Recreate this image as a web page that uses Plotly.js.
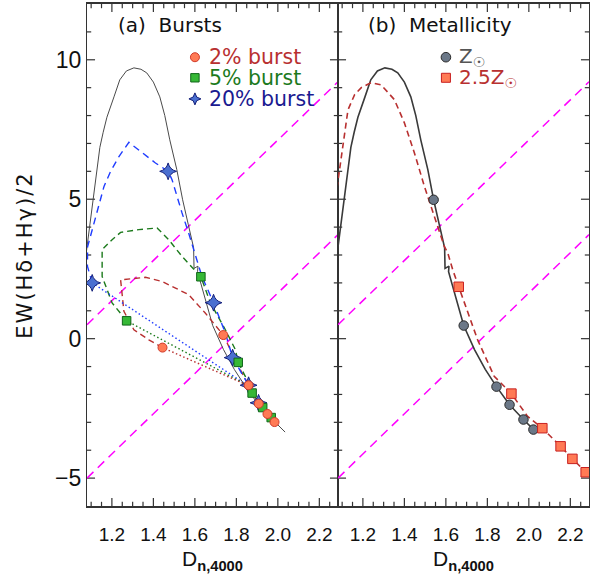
<!DOCTYPE html>
<html>
<head>
<meta charset="utf-8">
<script src="https://cdn.plot.ly/plotly-3.0.1.min.js"></script>
<style>
  html, body { margin: 0; padding: 0; background: #fff; }
  #chart { width: 590px; height: 575px; }
  .ytitle { letter-spacing: 2px; }
</style>
</head>
<body>
<div id="chart"></div>
<script>
// ---------- data ----------
// reference lines (magenta dashed)
const refLineX = [1.08, 2.29];
const refLine1Y = [0.5, 9.21];
const refLine2Y = [-5.0, 3.73];

// continuous star-formation track (solar metallicity)
const trackX = [1.075, 1.09, 1.1, 1.113, 1.128, 1.142, 1.158, 1.176, 1.21, 1.238, 1.27, 1.306, 1.34, 1.368, 1.40, 1.431, 1.455, 1.479, 1.513, 1.541, 1.568, 1.594, 1.596, 1.615, 1.613, 1.64, 1.686, 1.738, 1.79, 1.844, 1.907, 1.974, 2.022, 2.035];
const trackY = [3.0, 3.9, 4.5, 5.23, 6.1, 6.86, 7.4, 7.94, 8.67, 9.28, 9.6, 9.71, 9.66, 9.53, 9.2, 8.67, 8.0, 7.13, 6.06, 4.98, 4.1, 3.26, 2.52, 2.6, 2.4, 1.7, 0.47, -0.39, -1.1, -1.72, -2.37, -2.90, -3.26, -3.35];

// pre-burst point on the track
const preBurstX = [1.85];
const preBurstY = [-1.66];

// 20% burst
const burst20PathX = [1.105, 1.082, 1.083, 1.146, 1.162, 1.194, 1.234, 1.282, 1.41, 1.471, 1.49, 1.538, 1.57, 1.634, 1.69, 1.747, 1.782, 1.859, 1.907, 1.96, 1.99];
const burst20PathY = [2.0, 2.6, 3.3, 4.98, 5.46, 6.0, 6.53, 7.04, 6.3, 6.0, 5.7, 4.51, 3.79, 2.23, 1.29, 0.2, -0.68, -1.67, -2.3, -2.8, -3.0];
const burst20X = [1.105, 1.471, 1.69, 1.782, 1.859, 1.907];
const burst20Y = [2.0, 6.0, 1.29, -0.68, -1.67, -2.3];

// 5% burst
const burst5PathX = [1.271, 1.201, 1.153, 1.153, 1.201, 1.242, 1.33, 1.418, 1.474, 1.538, 1.594, 1.629, 1.675, 1.747, 1.795, 1.809, 1.843, 1.876, 1.927, 1.968];
const burst5PathY = [0.64, 1.28, 2.23, 3.19, 3.55, 3.81, 3.91, 3.97, 3.55, 2.95, 2.5, 2.22, 1.28, 0.32, -0.39, -0.85, -1.35, -1.95, -2.47, -2.83];
const burst5X = [1.271, 1.629, 1.809, 1.876, 1.927, 1.968];
const burst5Y = [0.64, 2.22, -0.85, -1.95, -2.47, -2.83];

// 2% burst
const burst2PathX = [1.444, 1.378, 1.306, 1.258, 1.242, 1.362, 1.442, 1.57, 1.65, 1.737, 1.81, 1.859, 1.908, 1.95, 1.984];
const burst2PathY = [-0.32, -0.04, 0.32, 0.98, 2.11, 2.2, 2.05, 1.58, 0.92, 0.13, -0.99, -1.67, -2.33, -2.7, -2.99];
const burst2X = [1.444, 1.737, 1.859, 1.908, 1.95, 1.984];
const burst2Y = [-0.32, 0.13, -1.67, -2.33, -2.7, -2.99];

// metallicity panel
const solarX = [1.541, 1.686, 1.844, 1.907, 1.974, 2.022];
const solarY = [4.98, 0.47, -1.72, -2.37, -2.90, -3.26];
const metalPathX = [1.075, 1.096, 1.128, 1.16, 1.192, 1.24, 1.288, 1.352, 1.40, 1.448, 1.497, 1.545, 1.593, 1.609, 1.633, 1.662, 1.753, 1.833, 1.916, 1.993, 2.065, 2.153, 2.21, 2.274, 2.30];
const metalPathY = [5.4, 6.52, 8.2, 8.75, 9.0, 9.18, 9.1, 8.57, 7.74, 6.67, 5.45, 4.37, 3.3, 3.08, 2.47, 1.86, -0.04, -1.35, -1.97, -2.78, -3.21, -3.86, -4.31, -4.79, -4.95];
const metalX = [1.662, 1.916, 2.065, 2.153, 2.21, 2.274];
const metalY = [1.86, -1.97, -3.21, -3.86, -4.31, -4.79];

// tick values
const xMajorTicks = [1.2, 1.4, 1.6, 1.8, 2.0, 2.2];
const xMinorTicks = [1.10, 1.15, 1.25, 1.30, 1.35, 1.45, 1.50, 1.55, 1.65, 1.70, 1.75, 1.85, 1.90, 1.95, 2.05, 2.10, 2.15, 2.25];
const yMajorTicks = [-5, 0, 5, 10];
const yMinorTicks = [-4, -3, -2, -1, 1, 2, 3, 4, 6, 7, 8, 9, 11];

// labels
const xTitle = 'D<sub><b>n,4000</b></sub>';
const yTitle = 'EW(Hδ+Hγ)/2';
const panelTitles = ['(a)\u00a0\u00a0Bursts', '(b)\u00a0\u00a0Metallicity'];
const burstLabels = ['2% burst', '5% burst', '20% burst'];
const metalLabels = ['Z<sub>☉</sub>', '2.5Z<sub>☉</sub>'];

// ---------- styling ----------
const FONT = 'DejaVu Sans, sans-serif';
const TICKFONT = 'Liberation Sans, Arial, sans-serif';
const MAG = '#ff00ff';
const AXC = '#333333';
const XRANGE = [1.08, 2.29];
const YRANGE = [-6, 12];

const col = {
  red: '#b83030', redFill: '#ff7a55', redEdge: '#d03a2a',
  green: '#1c7a1c', greenFill: '#36b836', greenEdge: '#11661a',
  blue: '#1f3cff', blueFill: '#4a6fd0', blueEdge: '#15207a',
  gray: '#6b7888', grayEdge: '#2a2a2a'
};

function line(x, y, xa, ya, color, width, dash) {
  return { x: x, y: y, xaxis: xa, yaxis: ya, type: 'scatter', mode: 'lines',
    line: { color: color, width: width, dash: dash || 'solid' },
    showlegend: false, hoverinfo: 'skip' };
}
function pts(x, y, xa, ya, symbol, size, fill, edge) {
  return { x: x, y: y, xaxis: xa, yaxis: ya, type: 'scatter', mode: 'markers',
    marker: { symbol: symbol, size: size, color: fill, line: { color: edge, width: 1 } },
    showlegend: false, hoverinfo: 'skip' };
}
// frame tick marks: line markers centred on the frame edge, clipped to the plot area (inside ticks)
function tickMarks(xa, ya) {
  const out = [];
  const mk = (x, y, sym, size) => ({ x: x, y: y, xaxis: xa, yaxis: ya, type: 'scatter', mode: 'markers',
    cliponaxis: true, showlegend: false, hoverinfo: 'skip',
    marker: { symbol: sym, size: size, color: AXC, line: { color: AXC, width: 1.2 } } });
  [YRANGE[0], YRANGE[1]].forEach(edge => {
    out.push(mk(xMajorTicks, xMajorTicks.map(() => edge), 'line-ns', 11.5));
    out.push(mk(xMinorTicks, xMinorTicks.map(() => edge), 'line-ns', 6));
  });
  [XRANGE[0], XRANGE[1]].forEach(edge => {
    out.push(mk(yMajorTicks.map(() => edge), yMajorTicks, 'line-ew', 11.5));
    out.push(mk(yMinorTicks.map(() => edge), yMinorTicks, 'line-ew', 6));
  });
  return out;
}

const traces = [].concat(
  tickMarks('x', 'y'),
  tickMarks('x2', 'y2'),
  [
    // magenta reference lines
    line(refLineX, refLine1Y, 'x', 'y', MAG, 1.5, '9px,6px'),
    line(refLineX, refLine2Y, 'x', 'y', MAG, 1.5, '9px,6px'),
    line(refLineX, refLine1Y, 'x2', 'y2', MAG, 1.5, '9px,6px'),
    line(refLineX, refLine2Y, 'x2', 'y2', MAG, 1.5, '9px,6px'),
    // panel (a)
    line(trackX, trackY, 'x', 'y', '#4a4a4a', 1.0),
    line(burst2PathX, burst2PathY, 'x', 'y', col.red, 1.4, '6px,4px'),
    line(burst5PathX, burst5PathY, 'x', 'y', col.green, 1.4, '6px,4px'),
    line(burst20PathX, burst20PathY, 'x', 'y', col.blue, 1.4, '7px,5px'),
    line([preBurstX[0], burst20X[0]], [preBurstY[0], burst20Y[0]], 'x', 'y', col.blue, 1.4, '1.5px,2.5px'),
    line([preBurstX[0], burst5X[0]], [preBurstY[0], burst5Y[0]], 'x', 'y', col.green, 1.4, '1.5px,2.5px'),
    line([preBurstX[0], burst2X[0]], [preBurstY[0], burst2Y[0]], 'x', 'y', col.red, 1.4, '1.5px,2.5px'),
    pts(burst20X, burst20Y, 'x', 'y', 'star-diamond', 12, col.blueFill, col.blueEdge),
    pts(burst5X, burst5Y, 'x', 'y', 'square', 8.5, col.greenFill, col.greenEdge),
    pts(burst2X, burst2Y, 'x', 'y', 'circle', 9, col.redFill, col.redEdge),
    // panel (b)
    line(trackX, trackY, 'x2', 'y2', '#3a3a3a', 1.6),
    line(metalPathX, metalPathY, 'x2', 'y2', col.red, 1.6, '6px,4px'),
    pts(solarX, solarY, 'x2', 'y2', 'circle', 9.5, col.gray, col.grayEdge),
    pts(metalX, metalY, 'x2', 'y2', 'square', 9.5, col.redFill, '#c82020')
  ]
);

function xaxisCfg(domain, anchor) {
  return {
    domain: domain, anchor: anchor, range: XRANGE,
    tickmode: 'array', tickvals: xMajorTicks, tickformat: '.1f', ticks: '',
    showline: true, linecolor: AXC, linewidth: 1.5, mirror: true,
    showgrid: false, zeroline: false,
    tickfont: { family: TICKFONT, size: 19, color: '#111' },
    ticklabelstandoff: 10,
    title: { text: xTitle, font: { family: TICKFONT, size: 21, color: '#111' }, standoff: 8 }
  };
}
function yaxisCfg(anchor, labels) {
  const c = {
    anchor: anchor, range: YRANGE, tickmode: 'array', tickvals: yMajorTicks, ticks: '',
    showline: true, linecolor: AXC, linewidth: 1.2, mirror: true,
    showgrid: false, zeroline: false,
    showticklabels: labels,
    tickfont: { family: TICKFONT, size: 23, color: '#111' }
  };
  if (labels) {
    c.title = { text: yTitle, font: { family: FONT, size: 21, color: '#111' }, standoff: 16 };
  }
  return c;
}

// positions in paper units (plot area: 87..589 px wide, 4..506 px tall)
const legA = { keyX: 0.215, textX: 0.239, y: [0.894, 0.853, 0.811] };
const legB = { keyX: 0.715, textX: 0.737, y: [0.894, 0.853] };

const annotations = [
  { text: panelTitles[0], x: 0.166, y: 0.958 },
  { text: panelTitles[1], x: 0.704, y: 0.958 }
].map(a => Object.assign(a, { xref: 'paper', yref: 'paper', xanchor: 'center', yanchor: 'middle', showarrow: false,
  font: { family: FONT, size: 20, color: '#111' } }));

const burstColors = [col.red, col.green, '#1a1a90'];
burstLabels.forEach((t, i) => annotations.push({ text: t, x: legA.textX, y: legA.y[i],
  xref: 'paper', yref: 'paper', xanchor: 'left', yanchor: 'middle', showarrow: false,
  font: { family: FONT, size: 20.5, color: burstColors[i] } }));
const metalColors = ['#555555', col.red];
metalLabels.forEach((t, i) => annotations.push({ text: t, x: legB.textX, y: legB.y[i],
  xref: 'paper', yref: 'paper', xanchor: 'left', yanchor: 'middle', showarrow: false,
  font: { family: FONT, size: 20, color: metalColors[i] } }));

function key(type, x, y, r, fill, edge, path) {
  const s = { type: type, xref: 'paper', yref: 'paper', xsizemode: 'pixel', ysizemode: 'pixel',
    xanchor: x, yanchor: y, fillcolor: fill, line: { color: edge, width: 1 }, layer: 'above' };
  if (path) { s.path = path; } else { s.x0 = -r; s.x1 = r; s.y0 = -r; s.y1 = r; }
  return s;
}
const starPath = 'M0,6L1.8,1.8L6,0L1.8,-1.8L0,-6L-1.8,-1.8L-6,0L-1.8,1.8Z';
const shapes = [
  key('circle', legA.keyX, legA.y[0], 4.5, col.redFill, col.redEdge),
  key('rect', legA.keyX, legA.y[1], 4.2, col.greenFill, col.greenEdge),
  key('path', legA.keyX, legA.y[2], 0, col.blueFill, col.blueEdge, starPath),
  key('circle', legB.keyX, legB.y[0], 4.8, col.gray, col.grayEdge),
  key('rect', legB.keyX, legB.y[1], 4.5, col.redFill, '#c82020')
];

const layout = {
  width: 590, height: 575,
  margin: { l: 87, r: 1, t: 4, b: 69, pad: 0 },
  showlegend: false,
  xaxis: xaxisCfg([0, 0.5], 'y'),
  yaxis: yaxisCfg('x', true),
  xaxis2: xaxisCfg([0.5, 1], 'y2'),
  yaxis2: yaxisCfg('x2', false),
  annotations: annotations,
  shapes: shapes,
  font: { family: FONT }
};

Plotly.newPlot('chart', traces, layout, { displayModeBar: false });
</script>
</body>
</html>
